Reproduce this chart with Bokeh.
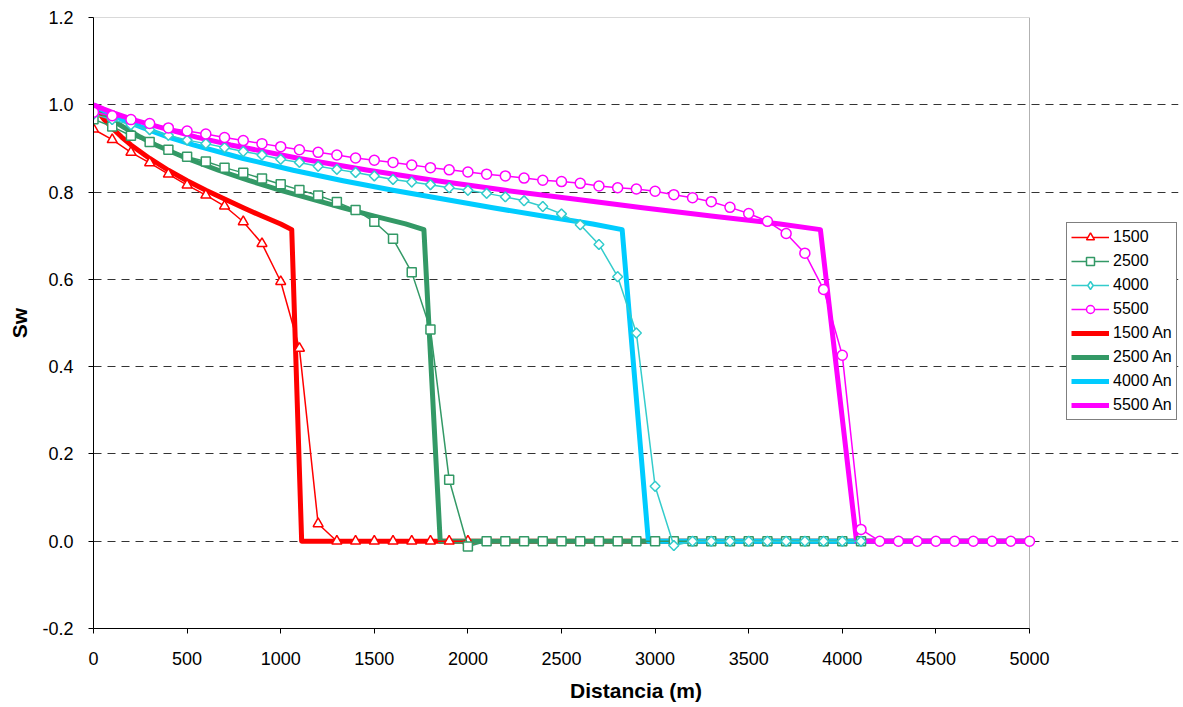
import numpy as np
from bokeh.plotting import figure
from bokeh.models import (Range1d, FixedTicker, Legend, LegendItem, PrintfTickFormatter,
                          BoxAnnotation)
from bokeh.embed import file_html
from bokeh.resources import INLINE

# ---- numerical series (every 100 m) ----
x_1500 = list(range(0, 2001, 100))
sw_1500 = [0.944, 0.920, 0.891, 0.867, 0.841, 0.816, 0.793, 0.768, 0.732, 0.682,
           0.595, 0.442, 0.040, 0.0, 0.0, 0.0, 0.0, 0.0, 0.0, 0.0, 0.0]

x_2500 = list(range(0, 4101, 100))
sw_2500 = [0.967, 0.950, 0.929, 0.915, 0.897, 0.881, 0.870, 0.856, 0.844, 0.831,
           0.818, 0.805, 0.792, 0.777, 0.759, 0.732, 0.693, 0.616, 0.485, 0.141,
           -0.012, 0.0, 0.0, 0.0, 0.0, 0.0, 0.0, 0.0, 0.0, 0.0,
           0.0, 0.0, 0.0, 0.0, 0.0, 0.0, 0.0, 0.0, 0.0, 0.0, 0.0, 0.0]

x_4000 = list(range(0, 4101, 100))
sw_4000 = [0.978, 0.966, 0.954, 0.943, 0.930, 0.919, 0.911, 0.902, 0.893, 0.885,
           0.875, 0.868, 0.859, 0.852, 0.845, 0.837, 0.829, 0.823, 0.817, 0.810,
           0.804, 0.797, 0.789, 0.780, 0.767, 0.750, 0.725, 0.680, 0.606, 0.477,
           0.126, -0.010, 0.0, 0.0, 0.0, 0.0, 0.0, 0.0, 0.0, 0.0, 0.0, 0.0]

x_5500 = list(range(0, 5001, 100))
sw_5500 = [0.983, 0.975, 0.966, 0.957, 0.947, 0.940, 0.933, 0.925, 0.918, 0.911,
           0.904, 0.897, 0.891, 0.885, 0.878, 0.873, 0.868, 0.862, 0.856, 0.851,
           0.846, 0.841, 0.837, 0.832, 0.827, 0.824, 0.820, 0.814, 0.810, 0.807,
           0.802, 0.794, 0.787, 0.778, 0.765, 0.751, 0.733, 0.705, 0.660, 0.577,
           0.426, 0.027, 0.0, 0.0, 0.0, 0.0, 0.0, 0.0, 0.0, 0.0, 0.0]

# ---- analytical solutions ----
sw_an = [1.0, 0.990, 0.981, 0.965, 0.947, 0.926, 0.908, 0.877, 0.850, 0.826,
         0.804, 0.784, 0.764, 0.745, 0.727, 0.714, 0.0, 0.0]
x_1500_an = [0, 15, 30, 60, 100, 150, 200, 300, 400, 500, 600, 700, 800, 900,
             1000, 1059, 1112, 5000]
x_2500_an = [0, 25, 50, 100, 167, 250, 333, 500, 667, 833, 1000, 1167, 1333, 1500,
             1667, 1765, 1852, 5000]
x_4000_an = [0, 40, 80, 160, 267, 400, 533, 800, 1067, 1333, 1600, 1867, 2133, 2400,
             2667, 2824, 2964, 5000]
x_5500_an = [0, 55, 110, 220, 367, 550, 733, 1100, 1467, 1833, 2200, 2567, 2933, 3300,
             3667, 3883, 4076, 5000]

labels_num = ["1500", "2500", "4000", "5500"]
labels_an = ["1500 An", "2500 An", "4000 An", "5500 An"]
x_ticks = list(range(0, 5001, 500))
y_ticks = [-0.2, 0.0, 0.2, 0.4, 0.6, 0.8, 1.0, 1.2]
X_MAX = 5000

FONT = "Liberation Sans"
RED, GREEN, TEAL, CYAN, MAGENTA = "#FF0000", "#339966", "#33CCCC", "#00CCFF", "#FF00FF"

# The canvas frame extends to the right of the plot area so the legend can live inside it;
# the visible plot area (0..5000) is 936 px wide.
PLOT_W, FRAME_W = 936, 1085
p = figure(frame_width=FRAME_W, frame_height=611, output_backend="svg", toolbar_location=None,
           x_range=Range1d(0, X_MAX * FRAME_W / PLOT_W), y_range=Range1d(-0.2, 1.2),
           min_border_left=93, min_border_right=5, min_border_top=17,
           min_border_bottom=79)
p.background_fill_color = "white"
p.border_fill_color = "white"
p.outline_line_color = None

p.xgrid.visible = False
p.ygrid.ticker = FixedTicker(ticks=y_ticks)
p.ygrid.bounds = (0, X_MAX)
p.ygrid.grid_line_color = "#333333"
p.ygrid.grid_line_dash = "8 6"
p.ygrid.grid_line_width = 1

for ax in (p.xaxis[0], p.yaxis[0]):
    ax.axis_line_color = "black"
    ax.major_tick_line_color = "black"
    ax.major_tick_in = 0
    ax.major_tick_out = 5
    ax.minor_tick_line_color = None
    ax.major_label_text_font = FONT
    ax.major_label_text_font_size = "18px"
    ax.major_label_text_color = "black"
    ax.axis_label_text_font = FONT
    ax.axis_label_text_font_size = "21px"
    ax.axis_label_text_font_style = "bold"
    ax.axis_label_text_color = "black"

p.xaxis.ticker = FixedTicker(ticks=x_ticks)
p.xaxis.bounds = (0, X_MAX)
p.yaxis.ticker = FixedTicker(ticks=y_ticks)
p.yaxis.formatter = PrintfTickFormatter(format="%.1f")
p.xaxis.axis_label = "Distancia (m)"
p.yaxis.axis_label = "Sw"
p.xaxis.major_label_standoff = 18
p.yaxis.major_label_standoff = 15
p.xaxis.axis_label_standoff = 11
p.yaxis.axis_label_standoff = 8

# plot-area border
p.add_layout(BoxAnnotation(left=0, right=X_MAX, bottom=-0.2, top=1.2, fill_alpha=0,
                           line_color="black", line_width=1, level="underlay"))

# analytical thick lines
an_r = []
for xs, col in zip([x_1500_an, x_2500_an, x_4000_an, x_5500_an], [RED, GREEN, CYAN, MAGENTA]):
    an_r.append(p.line(xs, sw_an, line_color=col, line_width=5, line_join="round",
                       line_cap="butt"))

# numerical series
num_leg = []
specs = [(x_1500, sw_1500, RED, "triangle", 10, 0),
         (x_2500, sw_2500, GREEN, "square", 9, 0),
         (x_4000, sw_4000, TEAL, "diamond", 7, 0),
         (x_5500, sw_5500, MAGENTA, "circle", 10, 0)]
for xs, ys, col, mk, sz, ang in specs:
    lr = p.line(xs, ys, line_color=col, line_width=1.5)
    if mk == "diamond":
        # upright diamond key for the legend, hidden under the square-shaped diamonds
        sr_leg = p.scatter(xs, ys, marker="diamond", size=9.5, fill_color="white",
                           line_color=col, line_width=1.5)
        p.scatter(xs, ys, marker="square", size=sz, angle=np.pi / 4, fill_color="white",
                  line_color=col, line_width=1.5)
    else:
        sr_leg = p.scatter(xs, ys, marker=mk, size=sz, fill_color="white",
                           line_color=col, line_width=1.5)
    num_leg.append((lr, sr_leg))

items = [LegendItem(label=lab, renderers=[lr, sr]) for lab, (lr, sr) in zip(labels_num, num_leg)]
items += [LegendItem(label=lab, renderers=[r]) for lab, r in zip(labels_an, an_r)]
legend = Legend(items=items, location=(973, 208), label_text_font=FONT,
                label_text_font_size="16px", label_text_color="black",
                glyph_width=38, glyph_height=20, spacing=4, padding=4, margin=0,
                label_standoff=4, label_height=20,
                border_line_color="black", border_line_width=1,
                background_fill_color="white", background_fill_alpha=1.0)
p.add_layout(legend, "center")

open("out.html", "w").write(file_html(p, INLINE))
